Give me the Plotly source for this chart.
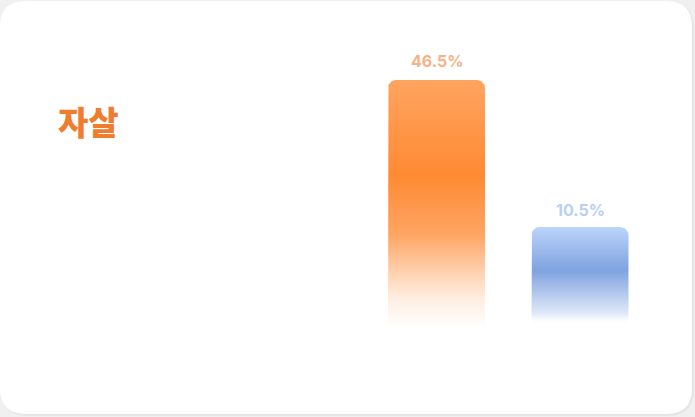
import numpy as np
import plotly.graph_objects as go

# ---- data ----
TITLE = "자살"
CATEGORIES = ["A", "B"]
VALUES = [46.5, 10.5]
LABELS = ["46.5%", "10.5%"]

# ---- styles ----
W, H = 695, 417
BAR_WIDTH = 0.676
X_RANGE = [-3.0418, 1.8014]
Y_RANGE = [-36.0, 66.1]
Y_BASE = -13.5
CORNER_PX = 8

GRADIENTS = [
    [[0.0, "rgba(255,138,51,0.02)"], [0.10, "rgba(255,138,51,0.13)"],
     [0.22, "rgba(255,138,51,0.40)"], [0.37, "rgba(255,138,51,0.77)"],
     [0.61, "rgba(255,138,51,1)"], [1.0, "rgba(255,138,51,0.78)"]],
    [[0.0, "rgba(255,255,255,0)"], [0.12, "rgba(200,216,242,0.6)"],
     [0.26, "#c0d2ef"], [0.56, "#7fa3e0"], [1.0, "#bcd4fb"]],
]
LABEL_COLORS = ["#f6b285", "#b8cff8"]
LABEL_SHIFTS = [7, 5]
TITLE_COLOR = "#f07d2e"

px_per_x = W / (X_RANGE[1] - X_RANGE[0])
px_per_y = H / (Y_RANGE[1] - Y_RANGE[0])
rx = CORNER_PX / px_per_x
ry = CORNER_PX / px_per_y


def bar_outline(xc, v):
    x0, x1 = xc - BAR_WIDTH / 2, xc + BAR_WIDTH / 2
    t = np.linspace(0, np.pi / 2, 10)
    xs = [x0, x0]
    ys = [Y_BASE, v - ry]
    xs += list(x0 + rx - rx * np.cos(t))
    ys += list(v - ry + ry * np.sin(t))
    xs += list(x1 - rx + rx * np.sin(t))
    ys += list(v - ry + ry * np.cos(t))
    xs += [x1, x0]
    ys += [Y_BASE, Y_BASE]
    return xs, ys


fig = go.Figure()
for i, (cat, v) in enumerate(zip(CATEGORIES, VALUES)):
    xs, ys = bar_outline(i, v)
    fig.add_trace(go.Scatter(
        x=xs, y=ys, mode="lines", fill="toself", name=cat,
        line=dict(width=0, color="rgba(0,0,0,0)"),
        fillgradient=dict(type="vertical", colorscale=GRADIENTS[i]),
        hoverinfo="skip", showlegend=False,
    ))
    fig.add_annotation(
        x=i, y=v, text=LABELS[i], showarrow=False, yanchor="bottom", yshift=LABEL_SHIFTS[i],
        font=dict(family="Inter, Noto Sans", size=16, color=LABEL_COLORS[i], weight="bold"),
    )

fig.add_annotation(
    xref="paper", yref="paper", x=56 / W, y=1 - 121 / H, xanchor="left", yanchor="middle",
    text=TITLE, showarrow=False,
    font=dict(family="Noto Sans CJK KR", size=33, color=TITLE_COLOR, weight=900),
)


def card_path(l, t, r, b, rad):
    X = lambda p: p / W
    Y = lambda p: 1 - p / H
    return (f"M {X(l + rad)} {Y(t)} L {X(r - rad)} {Y(t)} "
            f"Q {X(r)} {Y(t)} {X(r)} {Y(t + rad)} L {X(r)} {Y(b - rad)} "
            f"Q {X(r)} {Y(b)} {X(r - rad)} {Y(b)} L {X(l + rad)} {Y(b)} "
            f"Q {X(l)} {Y(b)} {X(l)} {Y(b - rad)} L {X(l)} {Y(t + rad)} "
            f"Q {X(l)} {Y(t)} {X(l + rad)} {Y(t)} Z")


fig.add_shape(type="path", xref="paper", yref="paper", layer="below",
              path=card_path(1, 2, 694, 416, 26), fillcolor="#e6e6e6", line=dict(width=0))
fig.add_shape(type="path", xref="paper", yref="paper", layer="below",
              path=card_path(0, 1, 692, 414, 26), fillcolor="#ffffff", line=dict(width=0))

fig.update_layout(
    width=W, height=H, margin=dict(l=0, r=0, t=0, b=0),
    paper_bgcolor="#f0f0f0", plot_bgcolor="rgba(0,0,0,0)",
    xaxis=dict(range=X_RANGE, visible=False, fixedrange=True),
    yaxis=dict(range=Y_RANGE, visible=False, fixedrange=True),
    showlegend=False,
)

fig.write_html("out.html", config={"displayModeBar": False},
               post_script="document.body.style.margin='0';document.body.style.overflow='hidden';")
